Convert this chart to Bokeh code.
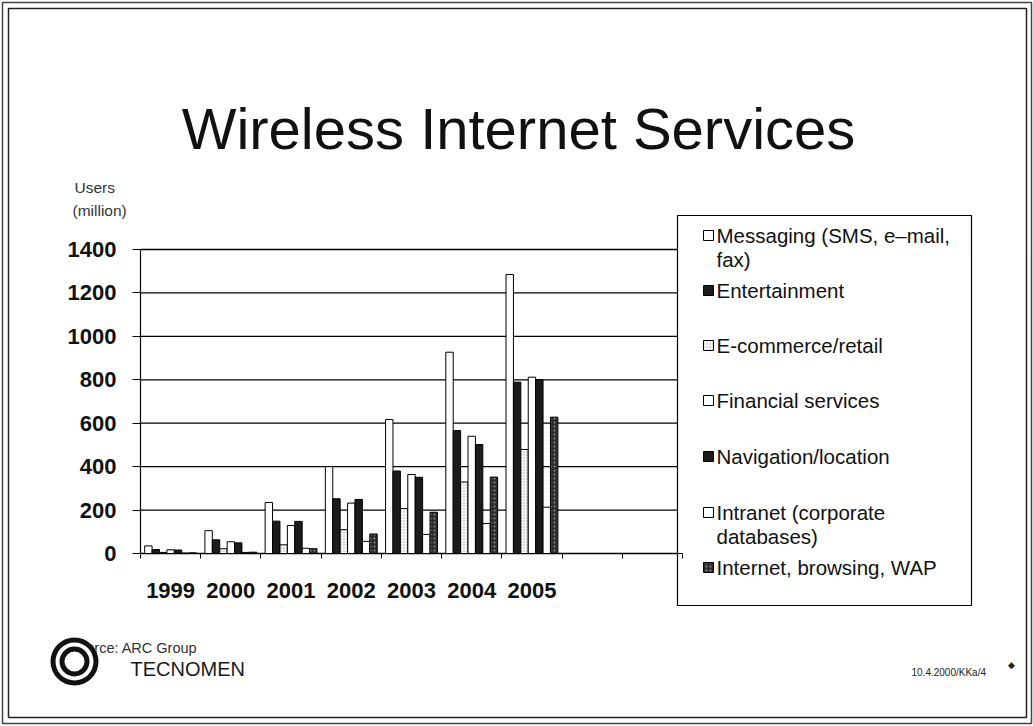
from bokeh.plotting import figure
from bokeh.models import (Range1d, FixedTicker, ColumnDataSource, LinearAxis)
from bokeh.core.properties import value
from bokeh.transform import dodge
from bokeh.embed import file_html
from bokeh.resources import INLINE

# ---- data (users, millions) ----
years = ["1999", "2000", "2001", "2002", "2003", "2004", "2005"]
messaging = [35, 105, 235, 400, 617, 927, 1285]
entertainment = [18, 63, 149, 252, 380, 566, 789]
ecommerce = [5, 22, 40, 110, 207, 329, 479]
financial = [17, 54, 129, 232, 364, 540, 812]
navigation = [16, 49, 148, 249, 351, 502, 801]
intranet = [2, 5, 24, 56, 88, 138, 213]
internet = [3, 6, 22, 90, 190, 352, 628]

series_names = ["Messaging (SMS, e\u2013mail,\nfax)", "Entertainment", "E-commerce/retail",
                "Financial services", "Navigation/location",
                "Intranet (corporate\ndatabases)", "Internet, browsing, WAP"]
series_keys = ["messaging", "entertainment", "ecommerce", "financial",
               "navigation", "intranet", "internet"]
y_ticks = [0, 200, 400, 600, 800, 1000, 1200, 1400]
n_slots = 9          # seven years plus two empty slots to the right
y_max = 1400

FONT = "Liberation Sans"
WHITE = dict(fill_color="white")
DARK = dict(fill_color="#1b1b1b")
STYLES = {
    "messaging": WHITE,
    "entertainment": DARK,
    "ecommerce": dict(fill_color="white", hatch_pattern="dot", hatch_color="#9a9a9a",
                      hatch_scale=3, hatch_weight=1),
    "financial": WHITE,
    "navigation": DARK,
    "intranet": WHITE,
    "internet": dict(fill_color="#2c2c2c", hatch_pattern="dot", hatch_color="#8a8a8a",
                     hatch_scale=4, hatch_weight=1),
}

# page is drawn in pixel coordinates (origin top-left); the chart area sits inside it
W, H = 1033, 726
L, R, T, B = 140, 682, 249, 553

slot = (R - L) / n_slots
k = (B - T) / y_max
slots_range = Range1d(-0.5 - L / slot, -0.5 + (W - L) / slot)
users_range = Range1d(-(H - B) / k, B / k)

p = figure(width=W, height=H, x_range=Range1d(0, W), y_range=Range1d(H, 0),
           x_axis_type=None, y_axis_type=None,
           output_backend="svg", toolbar_location=None, min_border=0)
p.extra_x_ranges = {"slots": slots_range}
p.extra_y_ranges = {"users": users_range}
p.outline_line_color = None
p.background_fill_color = "white"
p.border_fill_color = "white"
p.grid.visible = False


def ptext(x, y, text, size, color="#111111", align="left", baseline="middle",
          style="normal"):
    p.text(x=[x], y=[y], text=[text], text_font=value(FONT), text_font_size=size,
           text_color=color, text_align=align, text_baseline=baseline,
           text_font_style=style)


def pbox(x0, y0, x1, y1, **kw):
    p.quad(left=[x0], right=[x1], top=[y0], bottom=[y1], **kw)


# slide frame
pbox(2, 2, 1031, 723, fill_alpha=0, line_color="#444444", line_width=1.5)
pbox(8, 8, 1026, 717, fill_alpha=0, line_color="#222222", line_width=1.5)

# ---- horizontal gridlines (value scale) ----
p.segment(x0=[L] * len(y_ticks), x1=[R] * len(y_ticks), y0=y_ticks, y1=y_ticks,
          y_range_name="users", line_color="black", line_width=1.3)

# ---- clustered bars ----
source = ColumnDataSource(dict(
    x=list(range(len(years))), messaging=messaging, entertainment=entertainment,
    ecommerce=ecommerce, financial=financial, navigation=navigation,
    intranet=intranet, internet=internet))
bar_w = 0.123
for i, key in enumerate(series_keys):
    off = (i - 3) * bar_w
    p.vbar(x=dodge("x", off, range=slots_range), top=key, width=bar_w, bottom=0,
           source=source, x_range_name="slots", y_range_name="users",
           line_color="black", line_width=1, **STYLES[key])

# ---- axes ----
yax = LinearAxis(y_range_name="users", fixed_location=L, bounds=(0, y_max),
                 ticker=FixedTicker(ticks=y_ticks))
yax.axis_line_color = "black"
yax.axis_line_width = 1.2
yax.major_tick_out = 8
yax.major_tick_in = 0
yax.major_tick_line_color = "black"
yax.minor_tick_line_color = None
yax.major_label_text_font = FONT
yax.major_label_text_font_style = "bold"
yax.major_label_text_font_size = "22px"
yax.major_label_text_color = "#111111"
yax.major_label_standoff = 16
p.add_layout(yax, "left")

xax = LinearAxis(x_range_name="slots", fixed_location=B, bounds=(-0.5, n_slots - 0.5),
                 ticker=FixedTicker(ticks=list(range(len(years))),
                                    minor_ticks=[i - 0.5 for i in range(n_slots + 1)]))
xax.major_label_overrides = {i: y for i, y in enumerate(years)}
xax.axis_line_color = "black"
xax.axis_line_width = 1.2
xax.major_tick_out = 0
xax.major_tick_in = 0
xax.minor_tick_out = 5
xax.minor_tick_in = 0
xax.minor_tick_line_color = "black"
xax.major_label_text_font = FONT
xax.major_label_text_font_style = "bold"
xax.major_label_text_font_size = "22px"
xax.major_label_text_color = "#111111"
xax.major_label_standoff = 24
p.add_layout(xax, "below")

# title and axis caption
ptext(518, 128, "Wireless Internet Services", "58px", align="center")
ptext(74, 187, "Users", "15.5px", color="#333333")
ptext(72, 210, "(million)", "15.5px", color="#333333")

# legend
pbox(677, 215, 971, 605, fill_color="white", line_color="black", line_width=1.2)
item_y = [235, 290, 345, 400, 456, 512, 567]
line_gap = 24
for name, key, yc in zip(series_names, series_keys, item_y):
    pbox(703, yc - 5, 713, yc + 5, line_color="black", line_width=1, **STYLES[key])
    for j, line in enumerate(name.split("\n")):
        ptext(716, yc + j * line_gap, line, "20.5px")

# footer: source, logo and document reference
ptext(68, 647, "Source: ARC Group", "14.5px", color="#333333")
cx, cy = 74, 661
p.circle(x=[cx], y=[cy], radius=24, fill_color="white", line_color=None)
p.annulus(x=[cx, cx], y=[cy, cy], inner_radius=[19, 10], outer_radius=[24, 15],
          fill_color="#111111", line_color=None)
ptext(130, 668, "TECNOMEN", "20px", color="#1a1a1a")
ptext(911, 672, "10.4.2000/KKa/4", "10px", color="#222222")
ptext(1011, 664, "\u25c6", "9px", color="#222222", align="center")

open("out.html", "w").write(file_html(p, INLINE))
